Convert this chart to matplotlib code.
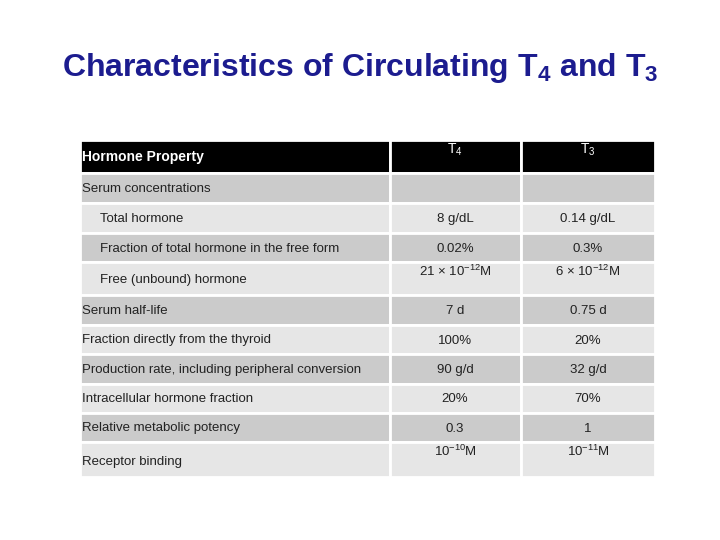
import matplotlib
matplotlib.use("Agg")
import matplotlib.pyplot as plt
from matplotlib.patches import Rectangle

plt.rcParams['font.family'] = ['Liberation Sans', 'DejaVu Sans']
plt.rcParams['mathtext.fontset'] = 'custom'
plt.rcParams['mathtext.rm'] = 'Liberation Sans'
plt.rcParams['mathtext.bf'] = 'Liberation Sans:bold'

properties = ["Serum concentrations", "Total hormone", "Fraction of total hormone in the free form",
              "Free (unbound) hormone", "Serum half-life", "Fraction directly from the thyroid",
              "Production rate, including peripheral conversion", "Intracellular hormone fraction",
              "Relative metabolic potency", "Receptor binding"]
indented = [False, True, True, True, False, False, False, False, False, False]
t4_values = ["", "8 g/dL", "0.02%", "21 × 10$^{−12}$M", "7 d", "100%", "90 g/d", "20%", "0.3", "10$^{−10}$M"]
t3_values = ["", "0.14 g/dL", "0.3%", "6 × 10$^{−12}$M", "0.75 d", "20%", "32 g/d", "70%", "1", "10$^{−11}$M"]
top_aligned = [False, False, False, True, False, False, False, False, False, True]

fig = plt.figure(figsize=(7.2, 5.4), dpi=100)
ax = fig.add_axes([0, 0, 1, 1])
ax.set_xlim(0, 720); ax.set_ylim(540, 0); ax.axis('off')

fig.text(0.5, 1 - 68 / 540, r"Characteristics of Circulating T$_\mathbf{4}$ and T$_\mathbf{3}$",
         ha='center', va='center', fontsize=23, fontweight='bold', color='#1c1c8f')

cols = [(80, 390), (390, 521), (521, 655)]
rows = [(140, 173), (173, 203), (203, 233), (233, 262), (262, 295), (295, 325),
        (325, 354), (354, 384), (384, 413), (413, 442), (442, 477)]
dark, light = '#cbcbcb', '#e6e6e6'

def cell(x0, x1, y0, y1, fc):
    ax.add_patch(Rectangle((x0, y0), x1 - x0, y1 - y0, facecolor=fc, edgecolor='white', lw=2))

# header
for (x0, x1) in cols:
    cell(x0, x1, *rows[0], 'black')
ax.text(82, 157, "Hormone Property", color='white', fontsize=10, fontweight='bold', va='center')
ax.text(455, 150, r"T$_4$", color='white', fontsize=10, ha='center', va='center')
ax.text(588, 150, r"T$_3$", color='white', fontsize=10, ha='center', va='center')

for i, prop in enumerate(properties):
    y0, y1 = rows[i + 1]
    fc = dark if i % 2 == 0 else light
    for (x0, x1) in cols:
        cell(x0, x1, y0, y1, fc)
    ym = (y0 + y1) / 2 + 1
    if top_aligned[i]:
        ax.text(100 if indented[i] else 82, ym + 1, prop, fontsize=9.5, va='center', color='#222222')
        yv = y0 + 9
    else:
        ax.text(100 if indented[i] else 82, ym, prop, fontsize=9.5, va='center', color='#222222')
        yv = ym
    ax.text(455, yv, t4_values[i], fontsize=9.5, ha='center', va='center', color='#222222')
    ax.text(588, yv, t3_values[i], fontsize=9.5, ha='center', va='center', color='#222222')

fig.savefig("out.png", dpi=100, facecolor='white')
